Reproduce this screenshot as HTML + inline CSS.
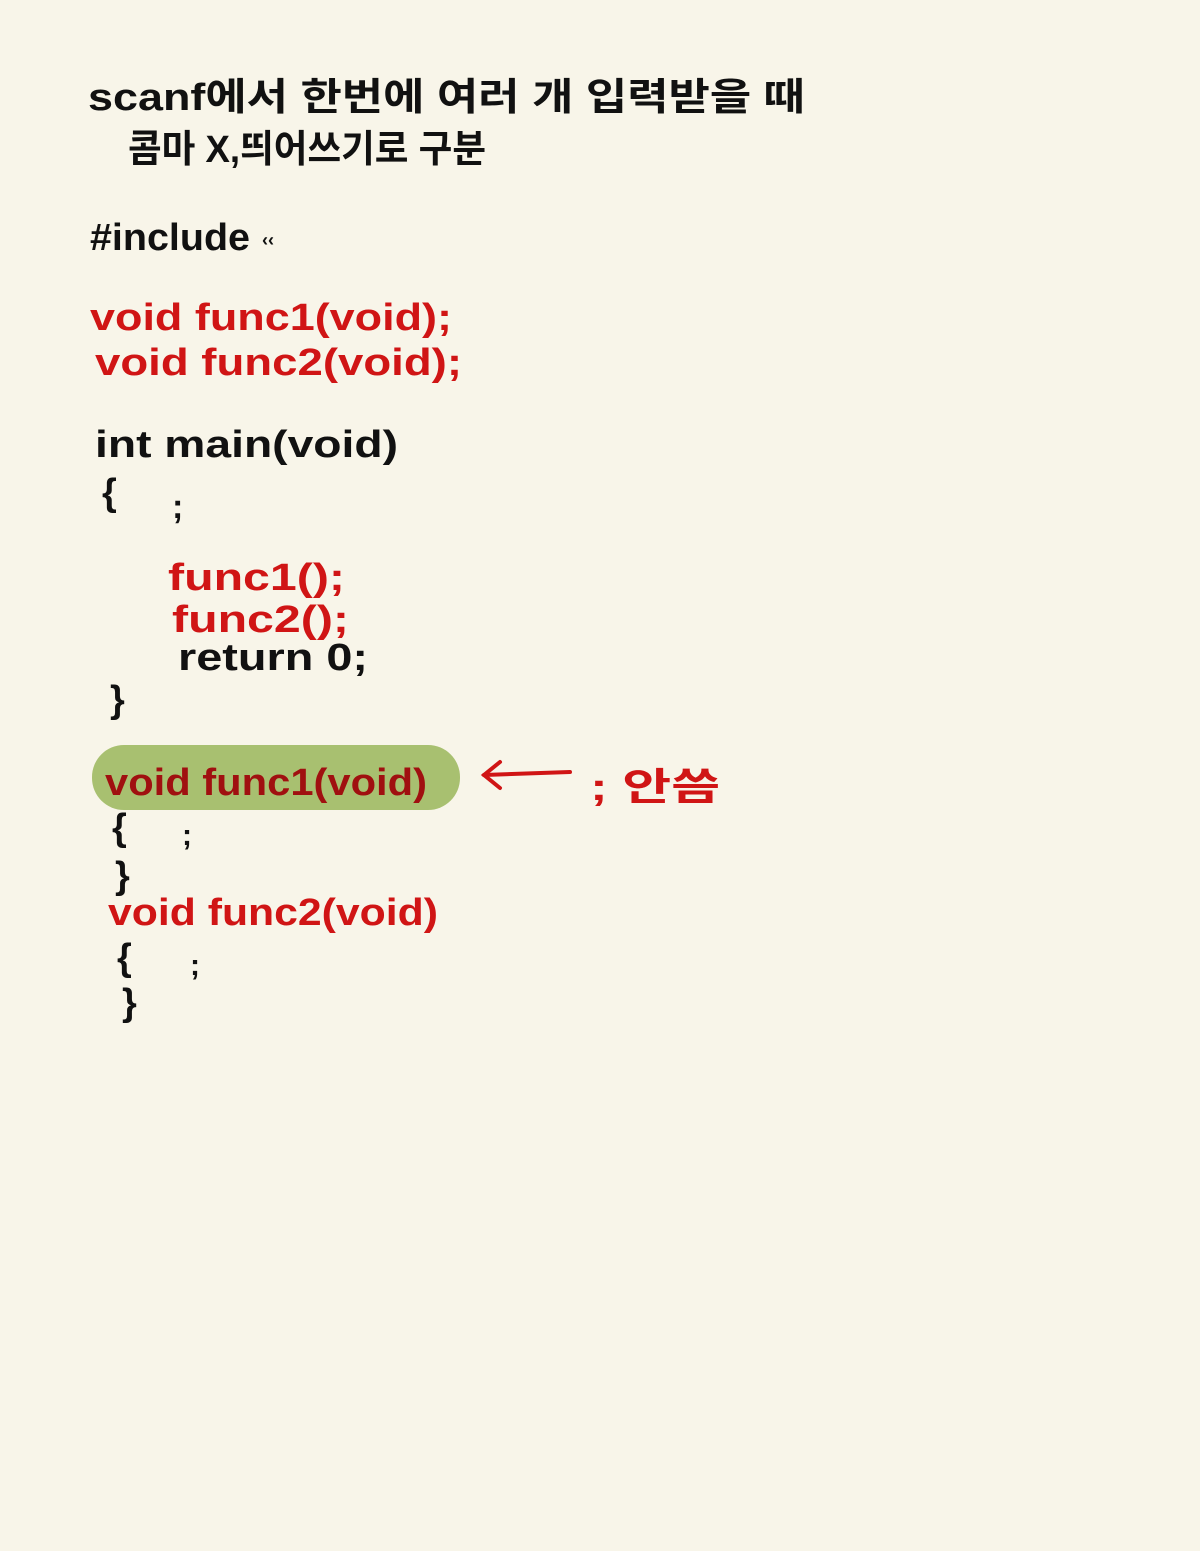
<!DOCTYPE html>
<html><head><meta charset="utf-8"><style>
html,body{margin:0;padding:0;background:#f8f5e9;}
svg{display:block}
text{font-family:"Liberation Sans","Noto Sans CJK KR",sans-serif;font-weight:bold;}
</style></head><body>
<svg width="1200" height="1551" viewBox="0 0 1200 1551" xmlns="http://www.w3.org/2000/svg">
<rect width="1200" height="1551" fill="#f8f5e9"/>
<g fill="#111" font-size="38">
<text x="88" y="110" textLength="717" lengthAdjust="spacingAndGlyphs">scanf에서 한번에 여러 개 입력받을 때</text>
<text x="128" y="162" textLength="358" lengthAdjust="spacingAndGlyphs">콤마 X,띄어쓰기로 구분</text>
<text x="90" y="250" textLength="160" lengthAdjust="spacingAndGlyphs">#include</text>
<text x="262" y="246" font-size="18">‹‹</text>
<text x="95" y="457" textLength="303" lengthAdjust="spacingAndGlyphs">int main(void)</text>
<text x="102" y="505">{</text>
<text x="172" y="518" font-size="34">;</text>
<text x="178" y="670" textLength="190" lengthAdjust="spacingAndGlyphs">return 0;</text>
<text x="110" y="712">}</text>
<text x="112" y="840">{</text>
<text x="182" y="845" font-size="30">;</text>
<text x="115" y="888">}</text>
<text x="117" y="970">{</text>
<text x="190" y="975" font-size="30">;</text>
<text x="122" y="1015">}</text>
</g>
<g fill="#d01515" font-size="38">
<text x="90" y="330" textLength="362" lengthAdjust="spacingAndGlyphs">void func1(void);</text>
<text x="95" y="375" textLength="367" lengthAdjust="spacingAndGlyphs">void func2(void);</text>
<text x="168" y="590" textLength="177" lengthAdjust="spacingAndGlyphs">func1();</text>
<text x="172" y="632" textLength="177" lengthAdjust="spacingAndGlyphs">func2();</text>
<text x="108" y="925" textLength="330" lengthAdjust="spacingAndGlyphs">void func2(void)</text>
<text x="590" y="800" textLength="130" lengthAdjust="spacingAndGlyphs">; 안씀</text>
</g>
<rect x="92" y="745" width="368" height="65" rx="32" fill="#a8c070"/>
<text x="105" y="795" fill="#a01010" font-size="38" textLength="322" lengthAdjust="spacingAndGlyphs">void func1(void)</text>
<g stroke="#d01515" stroke-width="4" fill="none" stroke-linecap="round">
<line x1="484" y1="775" x2="570" y2="772"/>
<polyline points="500,762 484,775 500,788"/>
</g>
</svg>
</body></html>
